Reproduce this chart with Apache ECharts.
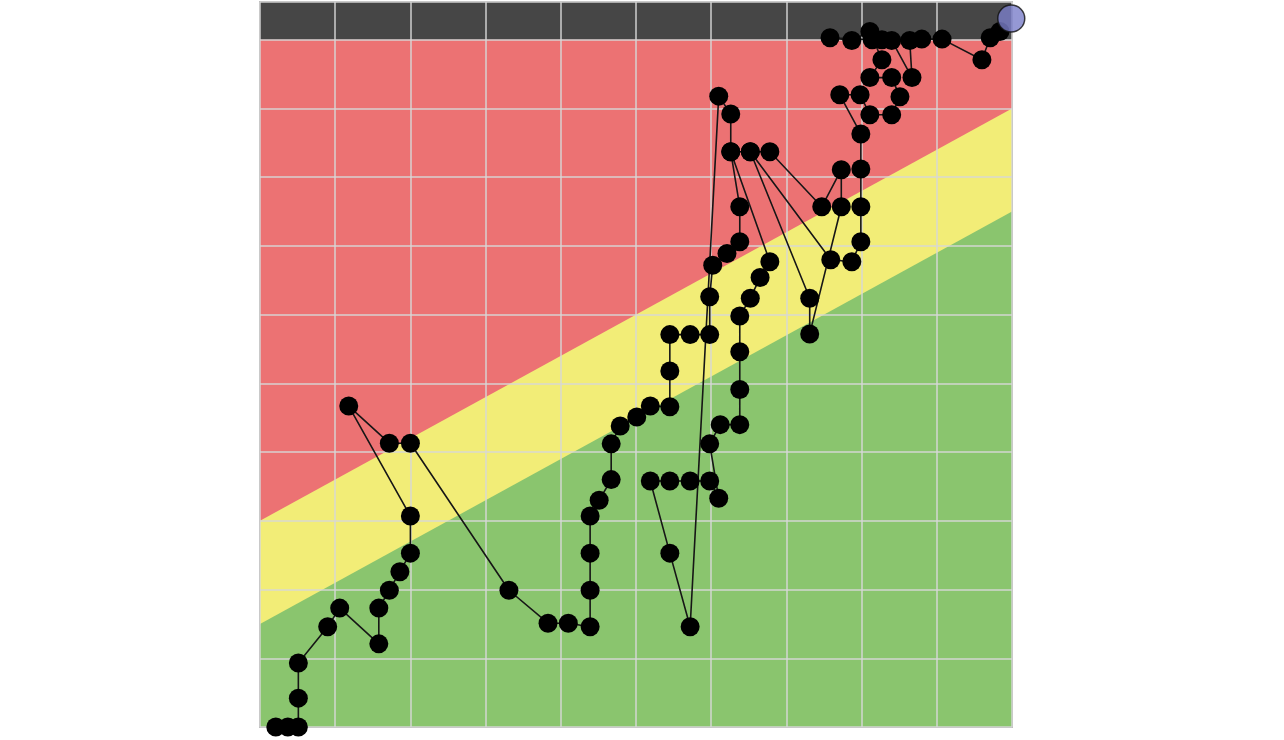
<!DOCTYPE html>
<html>
<head>
<meta charset="utf-8">
<script src="https://cdn.jsdelivr.net/npm/echarts@6/dist/echarts.min.js"></script>
<style>
  html, body { margin: 0; padding: 0; background: #fff; }
  #chart { width: 1284px; height: 740px; }
</style>
</head>
<body>
<div id="chart"></div>
<script>
// zone boundaries (straight lines across the plot)
let zoneX = [0, 10];
let greenTop = [1.5, 7.5];
let yellowTop = [3, 9];
let redTop = [10, 10];
let bandTop = [10.55, 10.55];

// path of the points, in order
let stepX = [0.21, 0.37, 0.51, 0.51, 0.51, 0.90, 1.06, 1.58, 1.58, 1.72,
    1.86, 2.00, 2.00, 1.18, 1.72, 2.00, 3.31, 3.83, 4.10, 4.39,
    4.39, 4.39, 4.39, 4.51, 4.67, 4.67, 4.79, 5.01, 5.19, 5.45,
    5.45, 5.45, 5.72, 5.98, 5.98, 6.02, 6.21, 6.38, 6.38, 6.26,
    6.78, 6.65, 6.52, 6.38, 6.38, 6.38, 6.38, 6.12, 5.98, 6.10,
    5.98, 5.72, 5.45, 5.19, 5.45, 5.72, 6.10, 6.26, 6.26, 6.52,
    7.31, 7.31, 7.73, 7.73, 7.47, 6.78, 6.52, 7.59, 7.87, 7.99,
    7.99, 7.99, 7.99, 7.71, 7.98, 8.11, 8.40, 8.51, 8.40, 8.11,
    8.27, 8.11, 7.87, 7.58, 8.14, 8.27, 8.40, 8.67, 8.64, 8.80,
    9.07, 9.60, 9.71, 9.84];
let stepY = [0, 0, 0, 0.42, 0.93, 1.46, 1.73, 1.21, 1.73, 1.99,
    2.26, 2.53, 3.07, 4.67, 4.13, 4.13, 1.99, 1.51, 1.51, 1.46,
    1.99, 2.53, 3.07, 3.30, 3.60, 4.12, 4.38, 4.51, 4.67, 4.66,
    5.18, 5.71, 5.71, 5.71, 6.26, 6.72, 6.89, 7.06, 7.57, 8.37,
    6.77, 6.54, 6.24, 5.98, 5.46, 4.91, 4.40, 4.40, 4.12, 3.33,
    3.58, 3.58, 3.58, 3.58, 2.53, 1.46, 9.18, 8.92, 8.37, 8.37,
    6.24, 5.72, 7.57, 8.11, 7.57, 8.37, 8.37, 6.80, 6.77, 7.06,
    7.57, 8.12, 8.63, 9.20, 9.20, 8.91, 8.91, 9.17, 9.45, 9.45,
    9.71, 10.12, 9.99, 10.03, 10.00, 10.00, 9.99, 9.45, 9.99, 10.01,
    10.01, 9.71, 10.03, 10.12];

// latest point, drawn in blue
let lastX = [9.99];
let lastY = [10.31];

function pairs(xs, ys) {
    return xs.map((x, i) => [x, ys[i]]);
}

// filled area from the x axis up to a boundary line
function zone(tops, color) {
    return {
        type: "line",
        symbol: "none",
        silent: true,
        z: 0,
        data: pairs(zoneX, tops),
        lineStyle: { width: 0 },
        areaStyle: { color: color, opacity: 1 }
    };
}

let chart = echarts.init(document.getElementById("chart"));

let opt = {
    animation: false,
    grid: {
        left: 260, right: 272, top: 2, bottom: 13,
        show: true,
        borderColor: "#8c8c8c",
        borderWidth: 1.5
    },
    xAxis: {
        type: "value",
        min: 0, max: 10, interval: 1,
        z: 1,
        axisLabel: { show: false },
        axisTick: { show: false },
        axisLine: { show: false },
        splitLine: { show: true, lineStyle: { color: "rgba(215,215,215,0.7)", width: 2 } }
    },
    yAxis: {
        type: "value",
        min: 0, max: bandTop[0], interval: 1,
        z: 1,
        axisLabel: { show: false },
        axisTick: { show: false },
        axisLine: { show: false },
        splitLine: { show: true, lineStyle: { color: "rgba(215,215,215,0.7)", width: 2 } }
    },
    series: [
        zone(bandTop, "#464646"),
        zone(redTop, "#ec7273"),
        zone(yellowTop, "#f2ed77"),
        zone(greenTop, "#8ac56e"),
        {
            type: "line",
            z: 3,
            clip: false,
            data: pairs(stepX, stepY),
            symbol: "circle",
            symbolSize: 19,
            itemStyle: { color: "#000" },
            lineStyle: { color: "#161616", width: 1.6 }
        },
        {
            type: "scatter",
            z: 4,
            clip: false,
            data: pairs(lastX, lastY),
            symbolSize: 27,
            itemStyle: { color: "#7a7ec9", borderColor: "#111", borderWidth: 1.5 }
        }
    ]
};

chart.setOption(opt);
</script>
</body>
</html>
